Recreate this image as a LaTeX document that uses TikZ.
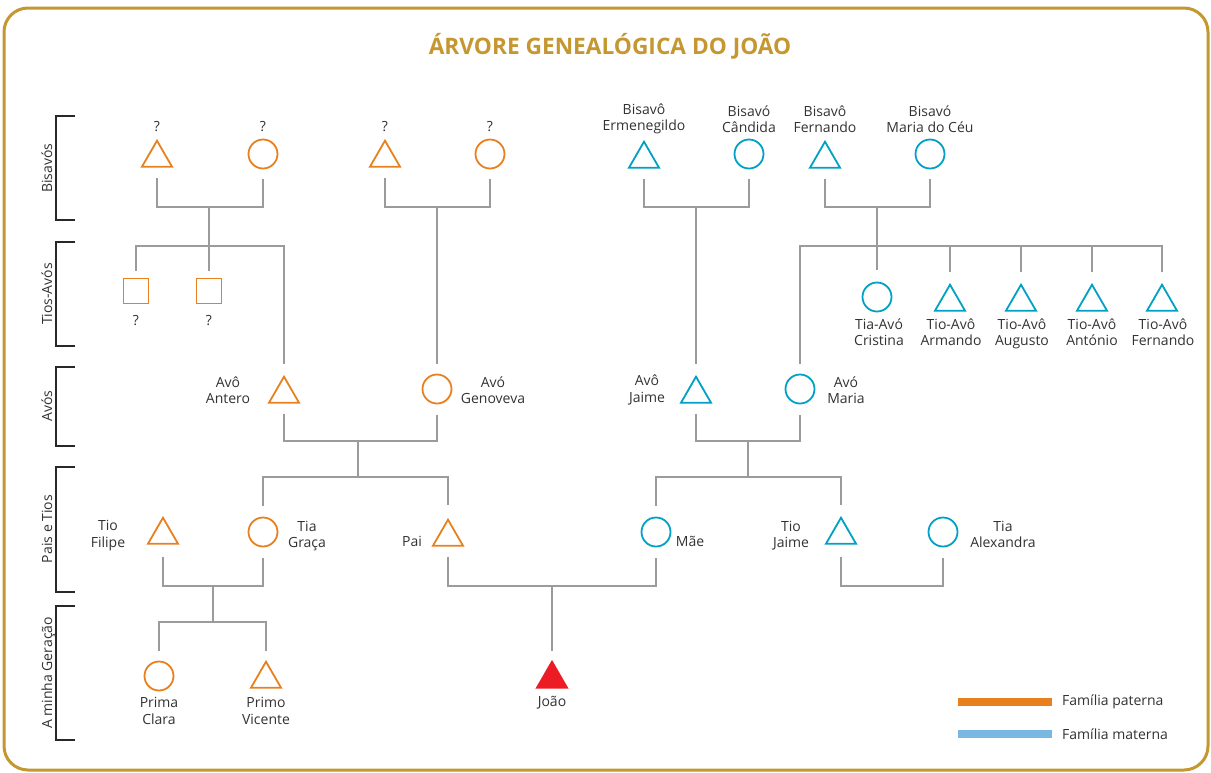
\documentclass[tikz,border=0pt]{standalone}
\usepackage{fontspec}
\setmainfont{Open Sans}
\usetikzlibrary{shapes.geometric,calc}
\definecolor{pat}{RGB}{232,128,30}
\definecolor{mat}{RGB}{0,161,196}
\definecolor{legb}{RGB}{122,183,227}
\definecolor{lgray}{RGB}{155,155,155}
\definecolor{gold}{RGB}{197,151,48}
\definecolor{jred}{RGB}{237,28,36}
\definecolor{txt}{RGB}{50,50,50}
\definecolor{brk}{RGB}{40,40,40}
\newcommand\lblfont{\fontsize{14}{16.3}\selectfont}
\begin{document}
\begin{tikzpicture}[x=1pt,y=-1pt,
 tri/.style={regular polygon, regular polygon sides=3, minimum size=34.6pt, inner sep=0pt, outer sep=0pt, draw, line width=1.8pt},
 circ/.style={circle, minimum size=29pt, inner sep=0pt, outer sep=0pt, draw, line width=1.8pt},
 sq/.style={rectangle, minimum size=25pt, inner sep=0pt, outer sep=0pt, draw, line width=1.8pt},
 P/.style={draw=pat}, M/.style={draw=mat},
 lbl/.style={align=center, font=\lblfont, text=txt, inner sep=0pt},
 side/.style={font=\lblfont, text=txt, inner sep=0pt, rotate=90, anchor=base},
 conn/.style={draw=lgray, line width=2pt},
 connb/.style={draw=lgray, line width=2.8pt},
 bracket/.style={draw=brk, line width=1.5pt},
]
\useasboundingbox (0,0) rectangle (1211,772);
\draw[gold, line width=3pt, rounded corners=24pt] (4,8) rectangle (1208,770);

\node[font=\bfseries\fontsize{22.7}{27}\selectfont, text=gold, anchor=base] (title) at (610,54) {ÁRVORE GENEALÓGICA DO JOÃO};

% generation brackets
\draw[bracket] (75,116) -- (56,116) -- (56,220) -- (75,220);
\draw[bracket] (75,242) -- (56,242) -- (56,346) -- (75,346);
\draw[bracket] (75,367) -- (56,367) -- (56,446) -- (75,446);
\draw[bracket] (75,467) -- (56,467) -- (56,592) -- (75,592);
\draw[bracket] (75,606) -- (56,606) -- (56,740) -- (75,740);
\node[side] (s1) at (52,168) {Bisavós};
\node[side] (s2) at (52,294) {Tios-Avós};
\node[side] (s3) at (52,406) {Avós};
\node[side] (s4) at (52,529) {Pais e Tios};
\node[side] (s5) at (52,673) {A minha Geração};

% Bisavós
\node[tri,P] (bp1) at (157,158) {};
\node[circ,P] (bp2) at (263,154) {};
\node[tri,P] (bp3) at (385,158) {};
\node[circ,P] (bp4) at (490,154) {};
\node[tri,M] (bm1) at (644,159) {};
\node[circ,M] (bm2) at (749,154) {};
\node[tri,M] (bm3) at (825,159) {};
\node[circ,M] (bm4) at (930,154) {};
\node[lbl] (lbp1) at (157,127) {?};
\node[lbl] (lbp2) at (263,127) {?};
\node[lbl] (lbp3) at (385,127) {?};
\node[lbl] (lbp4) at (490,127) {?};
\node[lbl] (lbm1) at (644,119) {Bisavô\\Ermenegildo};
\node[lbl] (lbm2) at (749,119) {Bisavó\\Cândida};
\node[lbl] (lbm3) at (825,119) {Bisavô\\Fernando};
\node[lbl] (lbm4) at (930,119) {Bisavó\\Maria do Céu};

% Tios-Avós
\node[sq,P] (ta1) at (136,291) {};
\node[sq,P] (ta2) at (209,291) {};
\node[lbl] (lta1) at (136,321) {?};
\node[lbl] (lta2) at (209,321) {?};
\node[circ,M] (tm1) at (877,297) {};
\node[tri,M] (tm2) at (950,302) {};
\node[tri,M] (tm3) at (1021,302) {};
\node[tri,M] (tm4) at (1092,302) {};
\node[tri,M] (tm5) at (1162,302) {};
\node[lbl] (ltm1) at (879,332) {Tia-Avó\\Cristina};
\node[lbl] (ltm2) at (951,332) {Tio-Avô\\Armando};
\node[lbl] (ltm3) at (1022,334) {Tio-Avô\\Augusto};
\node[lbl] (ltm4) at (1092,332) {Tio-Avô\\António};
\node[lbl] (ltm5) at (1163,332) {Tio-Avô\\Fernando};

% Avós
\node[tri,P] (a1) at (284,394) {};
\node[circ,P] (a2) at (437,389) {};
\node[tri,M] (a3) at (696,394) {};
\node[circ,M] (a4) at (800,389) {};
\node[lbl] (la1) at (228,390) {Avô\\Antero};
\node[lbl] (la2) at (493,390) {Avó\\Genoveva};
\node[lbl] (la3) at (647,390) {Avô\\Jaime};
\node[lbl] (la4) at (846,390) {Avó\\Maria};

% Pais e Tios
\node[tri,P] (p1) at (163,535) {};
\node[circ,P] (p2) at (263,532) {};
\node[tri,P] (p3) at (448,537) {};
\node[circ,M] (p4) at (656,532) {};
\node[tri,M] (p5) at (841,535) {};
\node[circ,M] (p6) at (943,532) {};
\node[lbl] (lp1) at (108,535.5) {Tio\\Filipe};
\node[lbl] (lp2) at (307,536) {Tia\\Graça};
\node[lbl] (lp3) at (412,541) {Pai};
\node[lbl] (lp4) at (690,541) {Mãe};
\node[lbl] (lp5) at (791,535.5) {Tio\\Jaime};
\node[lbl] (lp6) at (1003,534.5) {Tia\\Alexandra};

% A minha Geração
\node[circ,P] (g1) at (159,676) {};
\node[tri,P] (g2) at (266,679) {};
\node[tri,draw=jred,fill=jred] (g3) at (552,679) {};
\node[lbl] (lg1) at (159,711) {Prima\\Clara};
\node[lbl] (lg2) at (266,711) {Primo\\Vicente};
\node[lbl] (lg3) at (552,703) {João};

% connectors: bisavós
\coordinate (j1) at (209,207); \coordinate (k1) at (209,246);
\draw[conn] ($(bp1.south)+(0,11)$) |- (j1) -| ($(bp2.south)+(0,10)$);
\draw[conn] (j1) -- ($(ta2.north)+(0,-8)$);
\draw[conn] ($(ta1.north)+(0,-8)$) |- (k1) -| ($(a1.north)+(0,-13)$);

\coordinate (j2) at (437,207);
\draw[conn] ($(bp3.south)+(0,11)$) |- (j2) -| ($(bp4.south)+(0,10)$);
\draw[conn] (j2) -- ($(a2.north)+(0,-11)$);

\coordinate (j3) at (696,207);
\draw[conn] ($(bm1.south)+(0,11)$) |- (j3) -| ($(bm2.south)+(0,10)$);
\draw[conn] (j3) -- ($(a3.north)+(0,-13)$);

\coordinate (j4) at (877,207); \coordinate (k4) at (877,246);
\draw[conn] ($(bm3.south)+(0,11)$) |- (j4) -| ($(bm4.south)+(0,10)$);
\draw[conn] (j4) -- ($(tm1.north)+(0,-12.5)$);
\draw[connb] ($(a4.north)+(0,-11)$) |- (k4) -| ($(tm5.north)+(0,-13)$);
\foreach \n in {tm2,tm3,tm4} \draw[conn] (\n.north |- k4) -- ($(\n.north)+(0,-13)$);

% connectors: avós
\coordinate (j5) at (358,441); \coordinate (k5) at (358,477);
\draw[conn] ($(a1.south)+(0,11)$) |- (j5) -| ($(a2.south)+(0,11)$);
\draw[conn] (j5) -- (k5);
\draw[conn] ($(p2.north)+(0,-12)$) |- (k5) -| ($(p3.north)+(0,-15)$);

\coordinate (j6) at (748,441); \coordinate (k6) at (748,477);
\draw[conn] ($(a3.south)+(0,11)$) |- (j6) -| ($(a4.south)+(0,11)$);
\draw[conn] (j6) -- (k6);
\draw[conn] ($(p4.north)+(0,-12)$) |- (k6) -| ($(p5.north)+(0,-13)$);

% connectors: pais e tios
\coordinate (j7) at (213,586); \coordinate (k7) at (213,622);
\draw[conn] ($(p1.south)+(0,13)$) |- (j7) -| ($(p2.south)+(0,11)$);
\draw[conn] (j7) -- (k7);
\draw[conn] ($(g1.north)+(0,-11)$) |- (k7) -| ($(g2.north)+(0,-11)$);

\coordinate (j8) at (552,586);
\draw[conn] ($(p3.south)+(0,11)$) |- (j8) -| ($(p4.south)+(0,11)$);
\draw[conn] (j8) -- ($(g3.north)+(0,-11)$);

\coordinate (j9) at (892,586);
\draw[conn] ($(p5.south)+(0,13)$) |- (j9) -| ($(p6.south)+(0,11)$);

% legend
\node[lbl, anchor=west] (lgp) at (1062,702) {Família paterna};
\node[lbl, anchor=west] (lgm) at (1062,734) {Família materna};
\draw[pat, line width=8pt] ($(lgp.west)+(-104,0)$) -- ($(lgp.west)+(-10,0)$);
\draw[legb, line width=8pt] ($(lgm.west)+(-104,0)$) -- ($(lgm.west)+(-10,0)$);
\end{tikzpicture}
\end{document}
